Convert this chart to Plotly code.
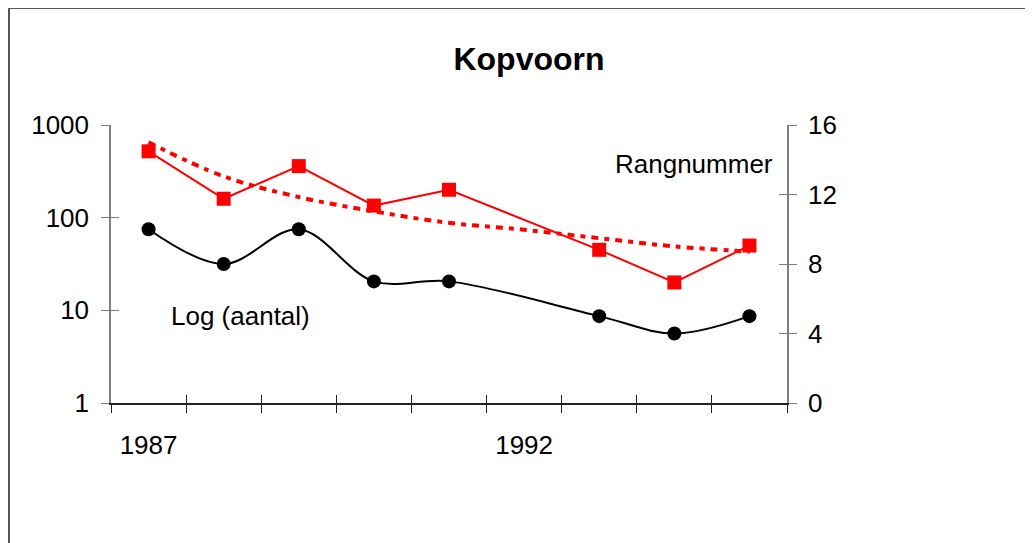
import plotly.graph_objects as go

# ---- data ----
years = [1987, 1988, 1989, 1990, 1991, 1992, 1993, 1994, 1995]
aantal = [520, 160, 360, 135, 200, None, 45, 20, 50]          # red squares, left log axis
trend_aantal = [650, 279, 167, 117, 88, 74, 60, 49, 43]       # red dotted trend line
rangnummer = [10, 8, 10, 7, 7, None, 5, 4, 5]                  # black circles, right axis
label_years = [1987, 1992]
left_ticks = [1, 10, 100, 1000]
right_ticks = [0, 4, 8, 12, 16]

FONT = "Liberation Sans, Arial, sans-serif"
W, H = 1033, 543
OFF = 8  # page body margin offset
L, R, T, B = 103, 254, 117, 148
pw, ph = W - L - R, H - T - B

fig = go.Figure()

fig.add_trace(go.Scatter(
    x=years, y=trend_aantal, mode="lines", line=dict(color="#FF0000", width=4,
    dash="7px,6px,5px,6px", shape="spline"), xaxis="x", yaxis="y", hoverinfo="skip"))
fig.add_trace(go.Scatter(
    x=years, y=aantal, mode="lines+markers", connectgaps=True,
    line=dict(color="#FF0000", width=2),
    marker=dict(symbol="square", size=14, color="#FF0000"),
    xaxis="x", yaxis="y"))
fig.add_trace(go.Scatter(
    x=years, y=rangnummer, mode="lines+markers", connectgaps=True,
    line=dict(color="#000000", width=2, shape="spline"),
    marker=dict(symbol="circle", size=14, color="#000000"),
    xaxis="x", yaxis="y2"))

xr = [years[0] - 0.5, years[-1] + 0.5]
common_x = dict(range=xr, showgrid=False, zeroline=False, fixedrange=True)
yline = "#7f7f7f"
xline = "#222222"

fig.update_layout(
    width=W, height=H, showlegend=False,
    paper_bgcolor="white", plot_bgcolor="white",
    margin=dict(l=L, r=R, t=T, b=B),
    font=dict(family=FONT, size=26, color="black"),
    title=dict(text="<b>Kopvoorn</b>", x=((529 - OFF) / W), xanchor="center",
               y=1 - (59 - OFF) / H, yanchor="middle", font=dict(size=32, family=FONT)),
    xaxis=dict(**common_x, tickmode="linear", tick0=xr[0], dtick=1,
               ticks="outside", ticklen=8, tickcolor=xline, tickwidth=1.3,
               showline=True, linecolor=xline, linewidth=1.5,
               showticklabels=False, anchor="y"),
    xaxis2=dict(**common_x, overlaying="x", anchor="y", tickmode="linear",
                tick0=xr[0], dtick=1, ticks="inside", ticklen=8, tickcolor=xline,
                tickwidth=1.3, showline=False, showticklabels=False),
    xaxis3=dict(**common_x, overlaying="x", anchor="y", tickmode="array",
                tickvals=label_years, ticktext=[str(y) for y in label_years],
                ticks="", showline=False, ticklabelstandoff=24),
    yaxis=dict(type="log", range=[0, 3], tickmode="array", tickvals=left_ticks,
               ticktext=[str(v) for v in left_ticks],
               ticks="outside", ticklen=8, tickcolor=yline, tickwidth=1.3,
               showline=True, linecolor=yline, linewidth=1.5,
               showgrid=False, zeroline=False, ticklabelstandoff=7, fixedrange=True),
    yaxis3=dict(type="log", range=[0, 3], overlaying="y", side="left", anchor="x",
                tickmode="array", tickvals=left_ticks, ticks="inside", ticklen=8,
                tickcolor=yline, tickwidth=1.3, showline=False,
                showticklabels=False, showgrid=False, zeroline=False),
    yaxis2=dict(range=[0, 16], overlaying="y", side="right", anchor="x",
                tickmode="array", tickvals=right_ticks,
                ticks="outside", ticklen=8, tickcolor=yline, tickwidth=1.3,
                showline=True, linecolor=yline, linewidth=1.5,
                showgrid=False, zeroline=False, ticklabelstandoff=6),
    yaxis4=dict(range=[0, 16], overlaying="y", side="right", anchor="x",
                tickmode="array", tickvals=right_ticks, ticks="inside", ticklen=8,
                tickcolor=yline, tickwidth=1.3, showline=False,
                showticklabels=False, showgrid=False, zeroline=False),
)

# dummy traces so overlay axes are drawn
fig.add_trace(go.Scatter(x=[None], y=[None], xaxis="x2", yaxis="y3", showlegend=False))
fig.add_trace(go.Scatter(x=[None], y=[None], xaxis="x3", yaxis="y4", showlegend=False))

def px2paper(px, py):
    # px, py are positions in the reference screenshot
    return (px - OFF - L) / pw, (H - B - (py - OFF)) / ph

ax, ay = px2paper(240, 316)
fig.add_annotation(text="Log (aantal)", x=ax, y=ay, xref="paper", yref="paper",
                   showarrow=False, xanchor="center", yanchor="middle",
                   font=dict(size=26, family=FONT))
ax, ay = px2paper(694, 164)
fig.add_annotation(text="Rangnummer", x=ax, y=ay, xref="paper", yref="paper",
                   showarrow=False, xanchor="center", yanchor="middle",
                   font=dict(size=26, family=FONT))

# outer chart border (extends beyond the visible window at right and bottom)
x0, y0 = px2paper(9, 8)
x1, y1 = px2paper(W + 30, H + 30)
fig.add_shape(type="rect", xref="paper", yref="paper", x0=x0, y0=y1, x1=x1, y1=y0,
              line=dict(color="#555555", width=2), layer="below")

fig.write_html("out.html")
